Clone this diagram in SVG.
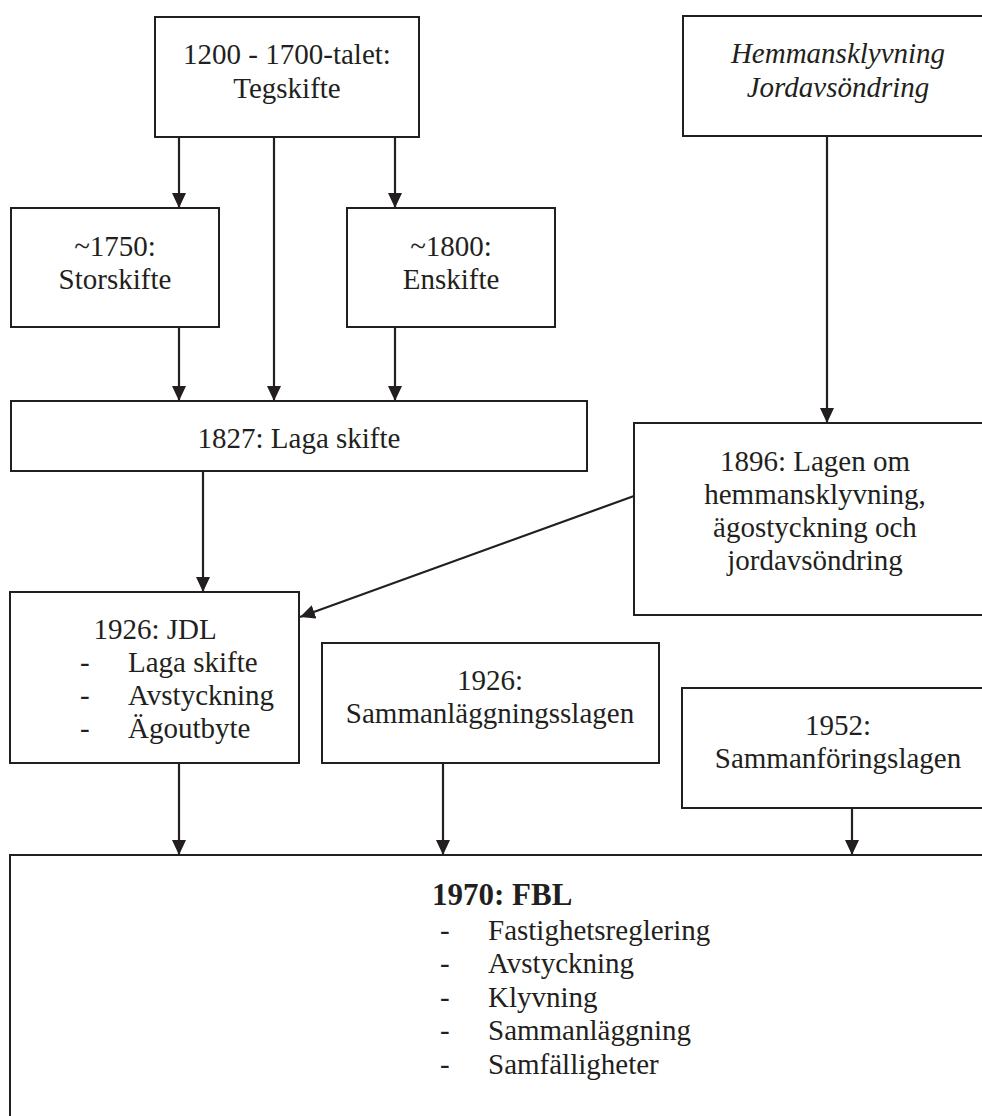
<svg xmlns="http://www.w3.org/2000/svg" width="982" height="1116" viewBox="0 0 982 1116">
<style>
.box{fill:#fff;stroke:#231f20;stroke-width:2}
.t{font-family:"Liberation Serif","Times New Roman",serif;font-size:29px;fill:#231f20}
.c{text-anchor:middle}
.i{font-style:italic}
.b{font-weight:bold;font-size:31px}
.ln{stroke:#231f20;stroke-width:2.2;fill:none;marker-end:url(#ah)}
</style>
<defs>
<marker id="ah" markerUnits="userSpaceOnUse" markerWidth="15" markerHeight="14" refX="15" refY="7" orient="auto" viewBox="0 0 15 14">
<path d="M0,0 L15,7 L0,14 z" fill="#231f20"/>
</marker>
</defs>
<rect width="982" height="1116" fill="#fff"/>
<g id="tegskifte">
<rect class="box" x="155" y="17" width="264" height="120"/>
<text class="t c" x="287" y="64">1200 - 1700-talet:</text>
<text class="t c" x="287" y="98">Tegskifte</text>
</g>
<g id="hemmansklyvning">
<rect class="box" x="683" y="16" width="320" height="120"/>
<text class="t c i" x="838" y="63">Hemmansklyvning</text>
<text class="t c i" x="838" y="97">Jordavsöndring</text>
</g>
<g id="storskifte">
<rect class="box" x="11" y="208" width="208" height="119"/>
<text class="t c" x="115" y="256">~1750:</text>
<text class="t c" x="115" y="289">Storskifte</text>
</g>
<g id="enskifte">
<rect class="box" x="347" y="208" width="208" height="119"/>
<text class="t c" x="451" y="256">~1800:</text>
<text class="t c" x="451" y="289">Enskifte</text>
</g>
<g id="laga-skifte">
<rect class="box" x="11" y="401" width="576" height="70"/>
<text class="t c" x="299" y="448">1827: Laga skifte</text>
</g>
<g id="lagen-1896">
<rect class="box" x="634" y="423" width="370" height="192"/>
<text class="t c" x="815" y="471">1896: Lagen om</text>
<text class="t c" x="815" y="504">hemmansklyvning,</text>
<text class="t c" x="815" y="537">ägostyckning och</text>
<text class="t c" x="815" y="570">jordavsöndring</text>
</g>
<g id="jdl">
<rect class="box" x="10" y="592" width="289" height="171"/>
<text class="t c" x="155" y="639">1926: JDL</text>
<text class="t" x="80" y="672">-</text><text class="t" x="128" y="672">Laga skifte</text>
<text class="t" x="80" y="705">-</text><text class="t" x="128" y="705">Avstyckning</text>
<text class="t" x="80" y="738">-</text><text class="t" x="128" y="738">Ägoutbyte</text>
</g>
<g id="sammanlaggningslagen">
<rect class="box" x="322" y="643" width="337" height="120"/>
<text class="t c" x="490" y="690">1926:</text>
<text class="t c" x="490" y="723">Sammanläggningsslagen</text>
</g>
<g id="sammanforingslagen">
<rect class="box" x="682" y="688" width="320" height="120"/>
<text class="t c" x="838" y="735">1952:</text>
<text class="t c" x="838" y="768">Sammanföringslagen</text>
</g>
<g id="fbl">
<rect class="box" x="10" y="855" width="1000" height="300"/>
<text class="t b" x="432" y="905">1970: FBL</text>
<text class="t" x="440" y="940">-</text><text class="t" x="488" y="940">Fastighetsreglering</text>
<text class="t" x="440" y="973">-</text><text class="t" x="488" y="973">Avstyckning</text>
<text class="t" x="440" y="1007">-</text><text class="t" x="488" y="1007">Klyvning</text>
<text class="t" x="440" y="1040">-</text><text class="t" x="488" y="1040">Sammanläggning</text>
<text class="t" x="440" y="1074">-</text><text class="t" x="488" y="1074">Samfälligheter</text>
</g>
<g id="connectors">
<line class="ln" x1="179" y1="137" x2="179" y2="208"/>
<line class="ln" x1="274" y1="137" x2="274" y2="401"/>
<line class="ln" x1="395" y1="137" x2="395" y2="208"/>
<line class="ln" x1="179" y1="328" x2="179" y2="401"/>
<line class="ln" x1="395" y1="328" x2="395" y2="401"/>
<line class="ln" x1="203" y1="471" x2="203" y2="592"/>
<line class="ln" x1="827" y1="136" x2="827" y2="423"/>
<line class="ln" x1="634" y1="496" x2="300" y2="617"/>
<line class="ln" x1="179" y1="763" x2="179" y2="855"/>
<line class="ln" x1="443" y1="763" x2="443" y2="855"/>
<line class="ln" x1="852" y1="808" x2="852" y2="855"/>
</g>
</svg>
